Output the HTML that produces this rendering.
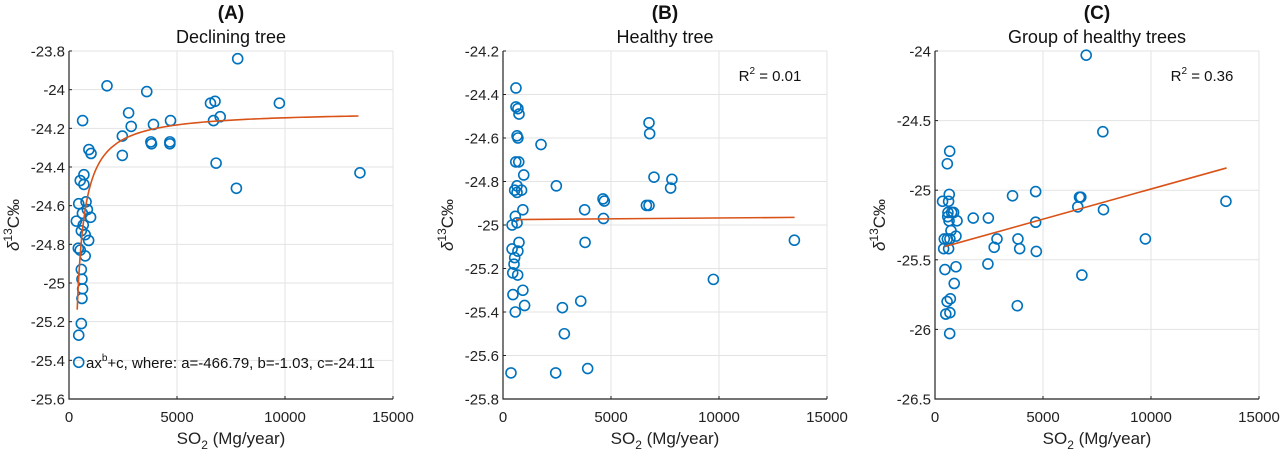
<!DOCTYPE html>
<html><head><meta charset="utf-8"><style>
body{margin:0;background:#fff;}
svg{display:block;font-family:"Liberation Sans",sans-serif;}
</style></head><body>
<svg id="chart" width="1280" height="452" viewBox="0 0 1280 452" xmlns="http://www.w3.org/2000/svg"></svg>
<script>
// Panel A data
const aX=[7810,1760,3600,6550,6760,9740,630,2760,6690,7000,2880,3910,4700,2470,3790,3820,4670,4670,2470,920,1020,6810,7750,13470,690,520,690,450,790,850,620,1000,340,660,570,750,910,430,520,750,570,600,630,600,570,450,450];
const aY=[-23.84,-23.98,-24.01,-24.07,-24.06,-24.07,-24.16,-24.12,-24.16,-24.14,-24.19,-24.18,-24.16,-24.24,-24.27,-24.28,-24.27,-24.28,-24.34,-24.31,-24.33,-24.38,-24.51,-24.43,-24.44,-24.47,-24.49,-24.59,-24.58,-24.62,-24.64,-24.66,-24.68,-24.70,-24.73,-24.75,-24.78,-24.82,-24.83,-24.86,-24.93,-24.98,-25.03,-25.08,-25.21,-25.27,-25.41];
const aFit=[-466.79,-1.03,-24.11];
const aYTicks=[-23.8,-24,-24.2,-24.4,-24.6,-24.8,-25,-25.2,-25.4,-25.6];
// Panel B data
const bX=[600,600,690,740,650,690,1760,590,730,960,2470,650,540,650,860,920,570,420,650,740,690,420,540,510,450,680,920,460,1000,570,2750,2840,3600,3780,3800,4630,4690,4650,370,2440,3920,6760,6790,6990,6640,6760,7820,7760,9740,13490];
const bY=[-24.37,-24.457,-24.465,-24.49,-24.59,-24.60,-24.63,-24.71,-24.71,-24.77,-24.82,-24.82,-24.84,-24.85,-24.84,-24.93,-24.96,-25.00,-24.99,-25.08,-25.12,-25.11,-25.15,-25.18,-25.22,-25.23,-25.30,-25.32,-25.37,-25.40,-25.38,-25.50,-25.35,-24.93,-25.08,-24.88,-24.89,-24.97,-25.68,-25.68,-25.66,-24.53,-24.58,-24.78,-24.91,-24.91,-24.79,-24.83,-25.25,-25.07];
const bLine=[[600,-24.975],[13500,-24.965]];
const bYTicks=[-24.2,-24.4,-24.6,-24.8,-25,-25.2,-25.4,-25.6,-25.8];
// Panel C data
const cX=[7000,7770,680,570,660,350,630,600,770,860,590,1020,650,1770,2470,3590,4660,4660,2870,2740,3840,3920,4690,2450,6610,6690,6750,7800,9740,13470,6800,3810,430,570,690,970,400,630,740,460,970,890,560,710,500,690,680];
const cY=[-24.03,-24.58,-24.72,-24.81,-25.03,-25.08,-25.08,-25.16,-25.16,-25.16,-25.19,-25.22,-25.22,-25.20,-25.20,-25.04,-25.01,-25.23,-25.35,-25.41,-25.35,-25.42,-25.44,-25.53,-25.12,-25.05,-25.05,-25.14,-25.35,-25.08,-25.61,-25.83,-25.35,-25.35,-25.35,-25.33,-25.42,-25.42,-25.29,-25.57,-25.55,-25.67,-25.80,-25.78,-25.89,-25.88,-26.03];
const cLine=[[450,-25.405],[13500,-24.84]];
const cYTicks=[-24,-24.5,-25,-25.5,-26,-26.5];
const xTicks=[0,5000,10000,15000];

const NS="http://www.w3.org/2000/svg";
const svg=document.getElementById('chart');
function mk(tag,attrs,parent,text){const e=document.createElementNS(NS,tag);for(const k in attrs)e.setAttribute(k,attrs[k]);if(text!==undefined)e.textContent=text;(parent||svg).appendChild(e);return e;}

function panel(id,left,yMin,yMax,yTicks,xs,ys,linePts,letter,title,note){
  const top=51,bottom=399,right=left+324;
  const g=mk('g',{});
  
  
  const sx=v=>left+(v/15000)*(right-left);
  const sy=v=>top+(yMax-v)/(yMax-yMin)*(bottom-top);
  xTicks.forEach(t=>{
    const l=mk('line',{x1:sx(t),x2:sx(t),y1:top,y2:bottom,stroke:'#e3e3e3','stroke-width':1},g);
    
    
    const tx=mk('text',{x:sx(t),y:bottom+23,'text-anchor':'middle','font-size':15,fill:'#222'},g,String(t));
    
    
  });
  yTicks.forEach(t=>{
    const l=mk('line',{x1:left,x2:right,y1:sy(t),y2:sy(t),stroke:'#e3e3e3','stroke-width':1},g);
    
    
    const tx=mk('text',{x:left-4,y:sy(t)+5.5,'text-anchor':'end','font-size':15,fill:'#222'},g,String(t));
    
    
  });
  const ax=mk('path',{d:`M${left},${top}V${bottom}H${right}`,fill:'none',stroke:'#222','stroke-width':1.2},g);
  
  
  for(const t of xTicks){mk('line',{x1:sx(t),x2:sx(t),y1:bottom,y2:bottom-3,stroke:'#222'},g);}
  for(const t of yTicks){mk('line',{x1:left,x2:left+3,y1:sy(t),y2:sy(t),stroke:'#222'},g);}
  xs.forEach((x,i)=>{
    const c=mk('circle',{cx:sx(x),cy:sy(ys[i]),r:5,fill:'none',stroke:'#0072BD','stroke-width':1.6},g);
    
    
  });
  const p=mk('polyline',{points:linePts.map(q=>sx(q[0])+','+sy(q[1])).join(' '),fill:'none',stroke:'#D95319','stroke-width':1.6},g);
  
  
  const cx=(left+right)/2;
  const lt=mk('text',{x:cx,y:19,'text-anchor':'middle','font-size':19,'font-weight':'bold',fill:'#111'},g,'('+letter+')');
  
  
  const tt=mk('text',{x:cx,y:43,'text-anchor':'middle','font-size':18,fill:'#111'},g,title);
  
  
  const xl=mk('text',{x:cx,y:444,'text-anchor':'middle','font-size':17,fill:'#222'},g);
  
  
  xl.innerHTML='SO<tspan font-size="12" dy="5">2</tspan><tspan dy="-5"> (Mg/year)</tspan>';
  const yl=mk('text',{transform:`translate(${left-50},${(top+bottom)/2}) rotate(-90)`,'text-anchor':'middle','font-size':17,fill:'#222'},g);
  
  
  yl.innerHTML='<tspan font-style="italic">δ</tspan><tspan font-size="12" dy="-7">13</tspan><tspan dy="7">C‰</tspan>';
  if(note){
    const n=mk('text',{x:right-57,y:81,'text-anchor':'middle','font-size':15,fill:'#111'},g);
    
    
    n.innerHTML='R<tspan font-size="10" dy="-7">2</tspan><tspan dy="7"> = '+note+'</tspan>';
  }
  return {g,sx,sy};
}

// Panel A with power-law fit
const aLine=[];
for(let x=380;x<=13500;x+=(x<2000?20:200)){aLine.push([x,aFit[0]*Math.pow(x,aFit[1])+aFit[2]]);}
const A=panel('a',69,-25.6,-23.8,aYTicks,aX,aY,aLine,'A','Declining tree',null);
const eq=mk('text',{x:86,y:368,'font-size':15,fill:'#111'},A.g);


eq.innerHTML='ax<tspan font-size="10" dy="-7">b</tspan><tspan dy="7">+c, where: a=-466.79, b=-1.03, c=-24.11</tspan>';
panel('b',503,-25.8,-24.2,bYTicks,bX,bY,bLine,'B','Healthy tree','0.01');
panel('c',935,-26.5,-24,cYTicks,cX,cY,cLine,'C','Group of healthy trees','0.36');
</script>
</body></html>
